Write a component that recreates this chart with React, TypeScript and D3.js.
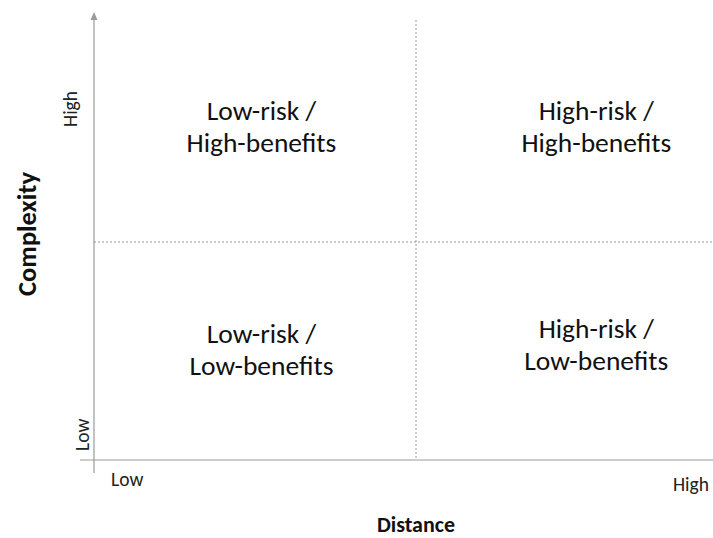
import React from 'react'
import * as d3 from 'd3'

// quadrant labels, placed in data units (distance, complexity), both 0..2
const quadrantLines = [
  ['Low-risk /', 'High-benefits'],
  ['High-risk /', 'High-benefits'],
  ['Low-risk /', 'Low-benefits'],
  ['High-risk /', 'Low-benefits']
]
const quadrantX = [0.52, 1.56, 0.52, 1.56]
const quadrantY = [1.53, 1.53, 0.51, 0.53]

const xTickLabels = ['Low', 'High']
const yTickLabels = ['Low', 'High']
const xTitle = 'Distance'
const yTitle = 'Complexity'
const divider = 1

const W = 713
const H = 538
const font = 'Carlito, Calibri, Lato, sans-serif'

const x = d3.scaleLinear().domain([0, 2]).range([94, 738])
const y = d3.scaleLinear().domain([0, 2]).range([460, 24])

const App = () => {
  const axisColor = '#9a9a9a'
  return (
    <svg width={W} height={H} style={{ position: 'absolute', left: 0, top: 0 }} fontFamily={font}>
      {/* axes */}
      <line x1={80} x2={W} y1={y(0)} y2={y(0)} stroke={axisColor} strokeWidth={1.2} />
      <line x1={x(0)} x2={x(0)} y1={473} y2={20} stroke={axisColor} strokeWidth={1.2} />
      <path d={`M${x(0) - 3.5},${20} L${x(0)},${12} L${x(0) + 3.5},${20} Z`} fill={axisColor} />

      {/* quadrant dividers */}
      <line x1={x(divider)} x2={x(divider)} y1={20} y2={y(0)} stroke="#8c8c8c" strokeWidth={0.9} strokeDasharray="2,2" />
      <line x1={x(0)} x2={W} y1={y(divider)} y2={y(divider)} stroke="#8c8c8c" strokeWidth={0.9} strokeDasharray="2,2" />

      {/* quadrant labels */}
      {quadrantLines.map((lines, i) => (
        <text key={i} x={x(quadrantX[i])} y={y(quadrantY[i])} textAnchor="middle" fontSize={27.5} fill="#111">
          {lines.map((l, j) => (
            <tspan key={j} x={x(quadrantX[i])} dy={j === 0 ? -6 : 32}>{l}</tspan>
          ))}
        </text>
      ))}

      {/* tick labels */}
      <text x={111} y={486} fontSize={19.5} fill="#222">{xTickLabels[0]}</text>
      <text x={709} y={491} fontSize={19.5} fill="#222" textAnchor="end">{xTickLabels[1]}</text>
      <text transform={`translate(89, 451) rotate(-90)`} fontSize={19.5} fill="#222">{yTickLabels[0]}</text>
      <text transform={`translate(77, 127) rotate(-90)`} fontSize={19.5} fill="#222">{yTickLabels[1]}</text>

      {/* axis titles */}
      <text x={416} y={532} textAnchor="middle" fontSize={22} fontWeight="bold" fill="#111">{xTitle}</text>
      <text transform={`translate(36, 234) rotate(-90)`} textAnchor="middle" fontSize={26.5} fontWeight="bold" fill="#111">{yTitle}</text>
    </svg>
  )
}

export default App
